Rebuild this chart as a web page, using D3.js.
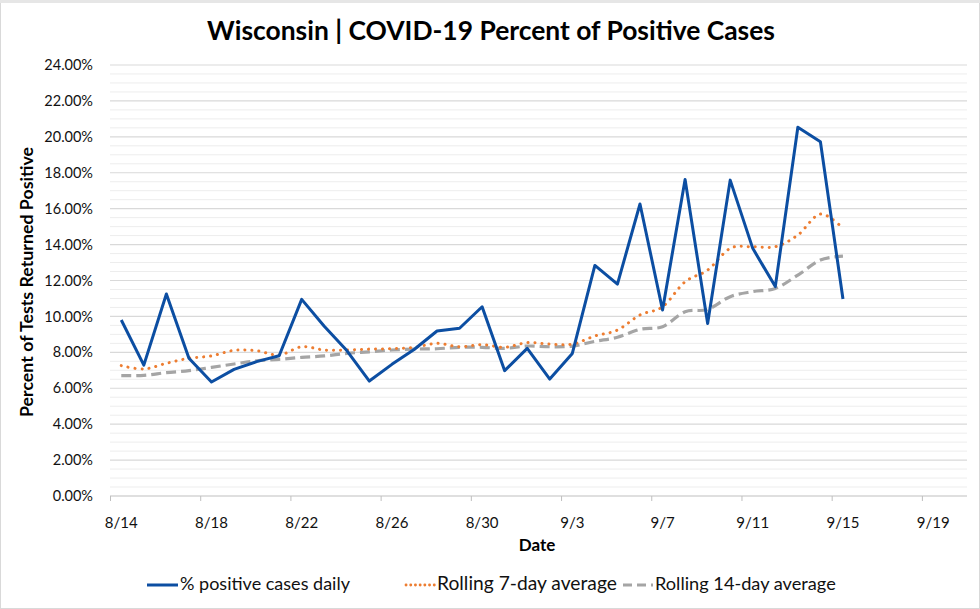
<!DOCTYPE html>
<html>
<head>
<meta charset="utf-8">
<script src="https://cdn.jsdelivr.net/npm/d3@7"></script>
<style>
  html, body { margin: 0; padding: 0; background: #fff; }
  svg { display: block; }
  text { font-family: Lato, "Open Sans", sans-serif; }
</style>
</head>
<body>
<svg id="chart" width="980" height="609"></svg>
<script>
// ---- data ----
const dates = ["8/14","8/15","8/16","8/17","8/18","8/19","8/20","8/21","8/22","8/23","8/24",
  "8/25","8/26","8/27","8/28","8/29","8/30","8/31","9/1","9/2","9/3","9/4","9/5","9/6",
  "9/7","9/8","9/9","9/10","9/11","9/12","9/13","9/14","9/15"];
const dailyPct = [9.80, 7.29, 11.25, 7.67, 6.35, 7.05, 7.48, 7.81, 10.95, 9.45, 8.10,
  6.40, 7.33, 8.17, 9.19, 9.34, 10.54, 6.98, 8.22, 6.51, 7.94, 12.84, 11.80, 16.26,
  10.36, 17.63, 9.61, 17.59, 13.79, 11.66, 20.53, 19.73, 10.97];
const rolling7 = [7.26, 7.07, 7.39, 7.67, 7.80, 8.11, 8.09, 7.85, 8.31, 8.13, 8.13,
  8.18, 8.20, 8.28, 8.50, 8.31, 8.43, 8.28, 8.54, 8.46, 8.46, 8.91, 9.24, 10.08,
  10.54, 11.93, 12.58, 13.79, 13.88, 13.88, 14.53, 15.70, 14.90];
const rolling14 = [6.70, 6.72, 6.87, 6.98, 7.16, 7.35, 7.53, 7.61, 7.72, 7.80, 7.94,
  8.03, 8.13, 8.18, 8.20, 8.28, 8.28, 8.22, 8.35, 8.31, 8.35, 8.61, 8.84, 9.28,
  9.43, 10.26, 10.39, 11.10, 11.38, 11.56, 12.30, 13.14, 13.36];
const xTickLabels = ["8/14","8/18","8/22","8/26","8/30","9/3","9/7","9/11","9/15","9/19"];
const yTickValues = [0, 2, 4, 6, 8, 10, 12, 14, 16, 18, 20, 22, 24];
const seriesNames = ["% positive cases daily", "Rolling 7-day average", "Rolling 14-day average"];
const titleText = "Wisconsin | COVID-19 Percent of Positive Cases";
const yTitle = "Percent of Tests Returned Positive";
const xTitle = "Date";
const axisStart = "8/14", axisEnd = "9/21";

// ---- helpers ----
const year = 2020;
const parse = s => { const [m, d] = s.split("/").map(Number); return new Date(year, m - 1, d); };
const mid = s => new Date(parse(s).getTime() + 12 * 3600 * 1000);

const svg = d3.select("#chart");
const W = 980, H = 609;
const L = 110, R = 967, T = 65, B = 496;

svg.append("rect").attr("x", 0.5).attr("y", 0.5).attr("width", W - 1).attr("height", H - 1)
  .attr("fill", "#fff").attr("stroke", "#d9d9d9").attr("stroke-width", 1);
svg.append("rect").attr("x", 0).attr("y", 0).attr("width", W).attr("height", 3).attr("fill", "#e6e6e6");

const x = d3.scaleTime().domain([parse(axisStart), parse(axisEnd)]).range([L, R]);
const y = d3.scaleLinear().domain([0, 24]).range([B, T]);

function fit(sel, w) {
  const len = sel.node().getComputedTextLength();
  const fs = parseFloat(sel.attr("font-size"));
  sel.attr("font-size", (fs * w / len).toFixed(2));
}

// gridlines: minor (0.5%) and major (2%)
const minor = d3.range(0.5, 24.01, 0.5).filter(v => Math.abs(v % 2) > 1e-6);
svg.append("g").selectAll("line").data(minor).join("line")
  .attr("x1", L).attr("x2", R).attr("y1", d => y(d)).attr("y2", d => y(d))
  .attr("stroke", "#ededed").attr("stroke-width", 1);
svg.append("g").selectAll("line").data(yTickValues.filter(v => v > 0)).join("line")
  .attr("x1", L).attr("x2", R).attr("y1", d => y(d)).attr("y2", d => y(d))
  .attr("stroke", "#d9d9d9").attr("stroke-width", 1.2);

// y axis labels
const yAxis = d3.axisLeft(y).tickValues(yTickValues).tickSize(0).tickPadding(0)
  .tickFormat(d => d.toFixed(2) + "%");
const gy = svg.append("g").attr("transform", `translate(93,0)`).call(yAxis);
gy.select(".domain").remove();
gy.selectAll("text").attr("font-size", 14.5).attr("fill", "#111")
  .style("font-family", "Lato, sans-serif");

// x axis (tick marks at day boundaries, labels at day centres)
const gx = svg.append("g").attr("transform", `translate(0,${B})`)
  .call(d3.axisBottom(x).tickValues(xTickLabels.map(parse).concat([parse(axisEnd)])).tickSize(5).tickFormat(""));
gx.select(".domain").attr("stroke", "#bfbfbf").attr("stroke-width", 1.2).attr("d", `M${L},0H${R}`);
gx.selectAll(".tick line").attr("stroke", "#bfbfbf");
gx.selectAll(".tick").filter((d, i) => i === xTickLabels.length).remove();
svg.append("g").selectAll("text").data(xTickLabels).join("text")
  .attr("x", d => x(mid(d))).attr("y", 528)
  .attr("text-anchor", "middle").attr("font-size", 15).attr("fill", "#111").text(d => d);

// lines
const pts = arr => arr.map((v, i) => [x(mid(dates[i])), y(v)]);
const straight = d3.line().curve(d3.curveLinear);
const smooth = d3.line().curve(d3.curveCatmullRom.alpha(0));

svg.append("path").attr("d", smooth(pts(rolling14))).attr("fill", "none")
  .attr("stroke", "#a5a5a5").attr("stroke-width", 3.2).attr("stroke-dasharray", "10,5");
svg.append("path").attr("d", smooth(pts(rolling7))).attr("fill", "none")
  .attr("stroke", "#ed7d31").attr("stroke-width", 3).attr("stroke-linecap", "round")
  .attr("stroke-dasharray", "0.1,6.9");
svg.append("path").attr("d", straight(pts(dailyPct))).attr("fill", "none")
  .attr("stroke", "#0c4ea2").attr("stroke-width", 3).attr("stroke-linejoin", "round");

// titles
const t = svg.append("text").attr("x", 491).attr("y", 40).attr("text-anchor", "middle")
  .attr("font-size", 26).attr("font-weight", "bold").attr("fill", "#000").text(titleText);
fit(t, 568);

const yt = svg.append("text").attr("transform", `translate(33,282) rotate(-90)`)
  .attr("text-anchor", "middle").attr("font-size", 16).attr("font-weight", "bold")
  .attr("fill", "#000").text(yTitle);
fit(yt, 270);

const xt = svg.append("text").attr("x", 537).attr("y", 551).attr("text-anchor", "middle")
  .attr("font-size", 17).attr("font-weight", "bold").attr("fill", "#000").text(xTitle);

// legend
const legendItems = [
  { name: seriesNames[0], x0: 147, x1: 178, tx: 180, w: 170, stroke: "#0c4ea2", sw: 3, dash: null, cap: "butt" },
  { name: seriesNames[1], x0: 406, x1: 435, tx: 437, w: 180, stroke: "#ed7d31", sw: 2.8, dash: "0.1,4.6", cap: "round" },
  { name: seriesNames[2], x0: 623, x1: 653, tx: 655, w: 181, stroke: "#a5a5a5", sw: 3.2, dash: "9,5", cap: "butt" }
];
const lg = svg.append("g");
legendItems.forEach(it => {
  lg.append("line").attr("x1", it.x0).attr("x2", it.x1).attr("y1", 585).attr("y2", 585)
    .attr("stroke", it.stroke).attr("stroke-width", it.sw).attr("stroke-linecap", it.cap)
    .attr("stroke-dasharray", it.dash);
  const tt = lg.append("text").attr("x", it.tx).attr("y", 590).attr("font-size", 15)
    .attr("fill", "#111").text(it.name);
  fit(tt, it.w);
});
</script>
</body>
</html>
